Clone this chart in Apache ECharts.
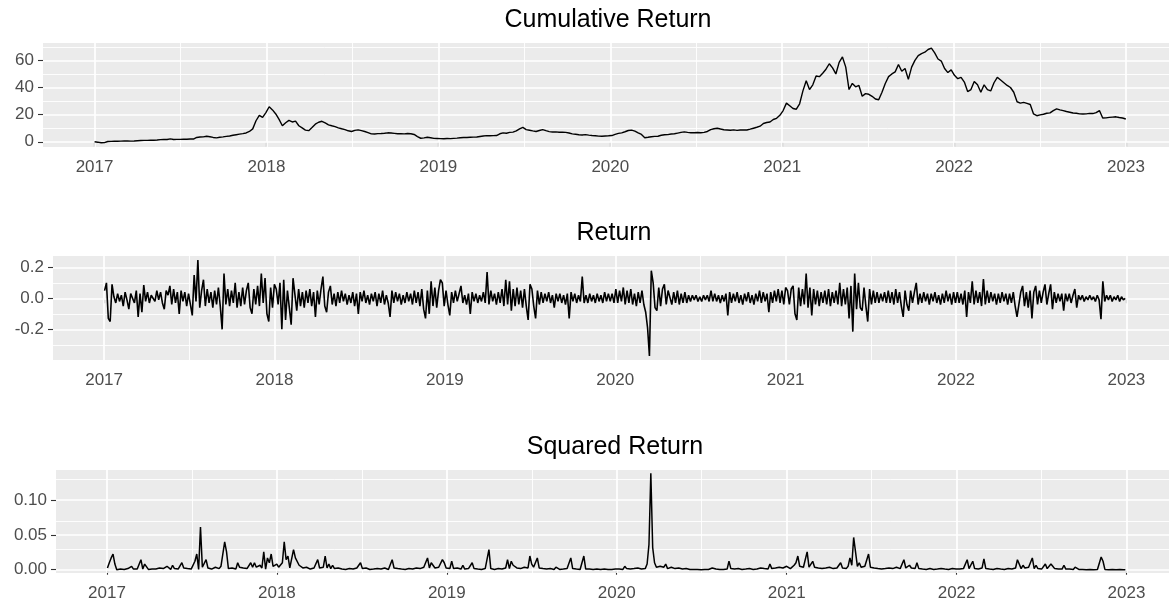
<!DOCTYPE html>
<html>
<head>
<meta charset="utf-8">
<script src="https://cdn.jsdelivr.net/npm/echarts@6/dist/echarts.min.js"></script>
<style>
html,body{margin:0;padding:0;background:#ffffff;}
#chart{width:1169px;height:601px;}
</style>
</head>
<body>
<div id="chart"></div>
<script>
// ---------------- data ----------------
const panelTitles = ['Cumulative Return', 'Return', 'Squared Return'];
const yearTicks = [2017, 2018, 2019, 2020, 2021, 2022, 2023];
const yearMinor = [2017.5, 2018.5, 2019.5, 2020.5, 2021.5, 2022.5];
const cumTicks = [0, 20, 40, 60];
const cumMinor = [10, 30, 50, 70];
const retTicks = [-0.2, 0, 0.2];
const retMinor = [-0.3, -0.1, 0.1];
const sqTicks = [0, 0.05, 0.10];
const sqMinor = [0.025, 0.075, 0.125];

// cumulative return, one value per week starting 2017-01-01
const cumStepDays = 7;
const cum2017 = [0,-0.3,-0.7,-0.6,0.2,0.3,0.4,0.4,0.5,0.6, 0.6,0.5,0.6,0.8,0.9,1.0,1.0,1.1,1.1,1.3, 1.6,1.7,1.7,2.1,1.7,1.8,1.8,1.9,1.9,2.0, 2.0,3.2,3.5,3.6,4.1,3.7,3.2,2.9,3.3,3.6, 4.0,4.3,4.8,5.2,5.6,6.0,6.5,7.6,9.5,15.5, 19.5,18.0,21.5];
const cum2018 = [25.8,23.5,20.5,16.5,11.8,14.0,15.8,14.6,15.2,11.8, 10.2,8.6,8.2,10.5,13.0,14.4,15.1,13.9,12.5,11.8, 11.2,10.3,9.6,9.0,8.1,7.6,8.4,8.8,8.2,7.6, 6.8,5.8,5.7,6.0,6.1,6.3,6.6,6.5,6.2,5.9, 5.9,5.8,6.1,5.9,5.4,3.8,2.6,2.9,3.3,3.0, 2.5,2.4];
const cum2019 = [2.3,2.2,2.4,2.3,2.5,2.7,3.0,3.2,3.2,3.3, 3.4,3.5,3.9,4.3,4.5,4.4,4.5,4.6,5.9,6.6, 6.3,6.9,7.1,8.0,9.5,10.6,9.0,8.5,8.0,7.6, 8.3,9.0,8.2,7.5,7.2,7.3,7.0,7.1,6.9,6.5, 5.8,5.5,5.2,5.0,5.3,4.9,4.6,4.4,4.2,4.1, 4.3,4.4];
const cum2020 = [4.6,5.5,6.2,6.6,7.4,8.3,8.6,7.8,6.5,5.4, 3.0,3.3,3.7,4.0,4.1,4.8,5.2,5.3,5.7,5.9, 6.4,6.9,7.3,6.9,6.7,6.6,6.8,6.7,6.9,7.6, 9.0,9.6,10.0,9.4,8.9,8.7,8.5,8.8,8.4,8.7, 8.8,8.7,9.3,10.0,10.7,11.5,13.5,14.2,14.6,16.4, 17.3,19.5];
const cum2021 = [23.0,28.5,26.5,24.5,24.0,28.0,37.5,45.0,38.5,42.0, 48.5,48.0,50.5,53.5,57.5,54.5,50.0,58.5,62.5,55.0, 38.5,43.0,40.5,41.5,33.5,35.5,35.0,33.5,31.5,31.0, 36.5,43.0,48.0,50.0,51.5,57.0,52.0,54.0,46.0,55.0, 60.0,63.5,65.0,66.0,68.0,69.0,65.5,61.0,59.5,54.0, 51.0,53.0,49.0];
const cum2022 = [46.5,47.5,44.0,37.0,38.5,44.5,42.0,36.5,42.0,38.5, 37.5,43.5,47.5,45.5,43.5,41.5,40.0,36.5,29.5,28.5, 29.0,28.3,27.5,20.5,19.2,19.8,20.3,21.0,21.3,23.0, 24.3,23.5,23.0,22.3,21.8,21.2,21.0,20.6,20.5,20.6, 20.9,20.8,21.5,23.0,17.5,17.6,18.0,18.2,18.4,17.9, 17.5,16.8];

// daily return, one value every 4 days starting 2017-01-02
const retStepDays = 4;
const ret2017 = [0.05,0.10,-0.13,-0.15,0.09,0.01,-0.03,0.03,-0.02,0.02, -0.05,0.04,-0.01,-0.07,0.03,0.02,-0.03,0.05,-0.12,0.03, -0.09,0.085,-0.02,0.04,-0.03,0.02,0.03,-0.02,0.05,-0.01, 0.04,-0.03,-0.07,0.05,0.02,0.08,-0.04,0.06,-0.03,0.04, -0.10,0.05,-0.02,0.04,-0.05,0.03,-0.04,-0.11,0.15,-0.02, 0.247,-0.06,0.05,0.12,-0.05,0.06,-0.03,0.04,-0.06,0.05, -0.04,0.07,-0.05,-0.20,0.16,-0.04,0.06,-0.05,0.05,-0.03, 0.10,-0.06,0.04,-0.05,0.07,-0.04,0.05,0.10,-0.06,-0.10, 0.06,-0.04,0.08,-0.05,0.16,-0.03,0.13,-0.10,-0.15,0.07, -0.06,0.09];
const ret2018 = [0.06,-0.04,0.10,-0.20,0.12,-0.14,0.05,-0.06,-0.17,0.13, 0.12,-0.08,0.06,-0.05,0.04,-0.06,0.05,-0.03,0.06,-0.05, 0.04,-0.12,0.05,-0.04,0.06,0.14,-0.05,-0.09,0.04,0.08, -0.04,0.03,-0.05,0.04,-0.03,0.05,-0.02,0.03,-0.04,0.02, -0.03,0.04,-0.05,0.03,-0.10,0.04,-0.02,0.05,-0.03,0.02, -0.04,0.03,-0.02,0.04,-0.05,0.03,-0.03,0.05,-0.04,0.02, -0.03,-0.12,0.05,-0.03,0.04,-0.02,0.03,-0.04,0.02,-0.03, 0.04,-0.02,0.03,-0.04,0.05,-0.03,0.04,-0.05,0.06,-0.07, -0.13,0.05,-0.10,0.11,-0.05,0.07,-0.06,0.05,0.12,0.10, -0.05];
const ret2019 = [0.05,-0.04,-0.11,0.04,-0.03,0.05,-0.02,0.03,0.08,-0.03, 0.02,-0.04,0.03,-0.10,0.04,-0.02,0.03,-0.03,0.02,-0.02, 0.04,-0.03,0.17,-0.04,0.05,-0.02,0.03,-0.04,0.04,-0.03, 0.06,-0.05,0.12,-0.04,0.11,-0.08,0.06,-0.05,0.07,-0.04, 0.05,-0.06,0.06,-0.05,-0.14,0.09,0.06,-0.05,-0.13,0.05, -0.04,0.04,-0.03,0.03,-0.02,0.04,-0.03,0.02,-0.06,0.03, -0.02,0.03,-0.03,0.02,-0.04,0.03,-0.13,0.04,-0.02,0.03, -0.03,0.02,-0.02,0.14,-0.03,0.02,-0.03,0.03,-0.02,0.02, -0.03,0.03,-0.02,0.02,-0.03,0.04,-0.02,0.03,-0.02,0.03, -0.03];
const ret2020 = [0.06,-0.03,0.05,-0.02,0.07,-0.04,0.05,-0.03,0.06,-0.04, 0.03,-0.05,0.04,-0.03,0.05,-0.04,-0.09,-0.19,-0.372,0.178, 0.10,-0.06,-0.08,0.07,-0.05,0.06,0.09,-0.04,0.05,0.06, -0.04,0.04,-0.03,0.05,-0.04,0.03,-0.03,0.04,-0.03,0.02, -0.02,0.02,-0.01,0.02,-0.02,0.01,-0.02,0.02,-0.01,0.02, -0.02,0.05,-0.02,0.03,-0.02,0.02,-0.03,0.02,-0.02,0.03, -0.11,0.04,-0.03,0.03,-0.02,0.04,-0.03,0.02,-0.04,0.03, -0.02,0.04,-0.03,0.02,-0.04,0.03,-0.02,0.05,-0.03,0.04, -0.02,0.03,-0.09,0.04,-0.03,0.05,-0.02,0.06,-0.03,0.05, -0.04,0.07];
const ret2021 = [0.05,-0.04,0.06,0.08,-0.10,-0.14,0.07,-0.05,0.06,-0.04, 0.16,-0.06,0.07,-0.11,0.06,-0.04,0.05,-0.05,0.04,-0.03, 0.05,-0.04,0.06,-0.05,0.04,-0.03,0.05,-0.04,0.10,-0.05, 0.06,-0.04,0.07,-0.13,0.08,-0.215,0.16,-0.07,0.10,-0.06, -0.08,0.07,-0.05,-0.15,0.06,-0.04,0.05,-0.03,0.04,-0.03, 0.03,-0.02,0.04,-0.03,0.05,-0.03,0.04,-0.04,0.06,-0.03, 0.04,-0.05,-0.12,0.05,-0.04,-0.08,0.05,-0.03,0.04,0.10, -0.04,0.03,-0.03,0.04,-0.02,0.03,-0.04,0.03,-0.02,0.04, -0.03,0.02,-0.04,0.03,-0.03,0.05,-0.02,0.03,-0.04,0.04, -0.03];
const ret2022 = [0.04,-0.03,0.03,-0.04,0.05,-0.12,0.04,-0.03,0.11,-0.04, 0.05,-0.03,0.04,-0.05,0.125,-0.04,0.05,-0.03,0.04,-0.02, 0.03,-0.04,0.03,-0.03,0.04,-0.02,0.03,-0.04,0.03,-0.03, 0.04,-0.05,-0.12,-0.11,0.04,0.08,-0.05,0.04,-0.06,0.05, -0.13,0.04,0.08,-0.04,0.05,-0.03,0.04,0.09,-0.04,0.03, 0.09,-0.07,0.04,-0.03,0.03,-0.02,0.03,-0.08,0.03,-0.02, 0.03,-0.03,0.02,0.06,-0.06,0.02,-0.01,0.02,-0.02,0.01, -0.01,0.02,-0.01,0.01,-0.02,0.02,-0.01,-0.135,0.11,-0.02, 0.02,-0.01,0.02,-0.02,0.01,-0.01,0.02,-0.02,0.01,-0.01, 0.00];

// ---------------- build ----------------
const cumulative = [].concat(cum2017, cum2018, cum2019, cum2020, cum2021, cum2022);
const returns = [].concat(ret2017, ret2018, ret2019, ret2020, ret2021, ret2022);
const squaredReturns = returns.map(r => r * r); // squared return = return^2

const toYear = days => 2017 + days / 365.25;
const cumData = cumulative.map((v, i) => [toYear(i * cumStepDays), v]);
const retData = returns.map((v, i) => [toYear(1 + i * retStepDays), v]);
const sqData = squaredReturns.map((v, i) => [toYear(1 + i * retStepDays), v]);

const FONT = '"Liberation Sans", Arial, Helvetica, sans-serif';
const MAJOR_W = 1.7, MINOR_W = 0.9;

function gridLineSeries(idx, majY, minY) {
  const d = [];
  yearMinor.forEach(v => d.push({ xAxis: v, lineStyle: { width: MINOR_W } }));
  minY.forEach(v => d.push({ yAxis: v, lineStyle: { width: MINOR_W } }));
  yearTicks.forEach(v => d.push({ xAxis: v, lineStyle: { width: MAJOR_W } }));
  majY.forEach(v => d.push({ yAxis: v, lineStyle: { width: MAJOR_W } }));
  return {
    type: 'line', xAxisIndex: idx, yAxisIndex: idx, data: [], silent: true,
    markLine: {
      silent: true, z: 1, symbol: ['none', 'none'], animation: false,
      label: { show: false }, emphasis: { disabled: true },
      lineStyle: { color: '#FFFFFF', type: 'solid' },
      data: d
    }
  };
}

function xAxisDef(idx) {
  return {
    type: 'value', gridIndex: idx, min: 2016.7, max: 2023.25,
    axisLine: { show: false },
    axisTick: { show: true, length: 5, customValues: yearTicks, lineStyle: { color: '#333333', width: 1.1 } },
    axisLabel: { customValues: yearTicks, formatter: v => String(Math.round(v)), fontSize: 17, color: '#4D4D4D', fontFamily: FONT, margin: 12 },
    splitLine: { show: false }
  };
}
function yAxisDef(idx, min, max, ticks, fmt) {
  return {
    type: 'value', gridIndex: idx, min: min, max: max,
    axisLine: { show: false },
    axisTick: { show: true, length: 5, customValues: ticks, lineStyle: { color: '#333333', width: 1.1 } },
    axisLabel: { customValues: ticks, formatter: fmt, fontSize: 17, color: '#4D4D4D', fontFamily: FONT, margin: 9 },
    splitLine: { show: false }
  };
}
function gridDef(left, top, height) {
  return { left: left, top: top, right: 0, height: height, show: true, backgroundColor: '#EBEBEB', borderWidth: 0, containLabel: false, outerBoundsMode: 'none' };
}
function titleDef(text, centerX, top) {
  return { text: text, left: centerX - 5, top: top, textAlign: 'center',
    textStyle: { fontSize: 25, fontWeight: 'normal', color: '#000000', fontFamily: FONT } };
}
function dataSeries(idx, data, w) {
  return { type: 'line', xAxisIndex: idx, yAxisIndex: idx, data: data, symbol: 'none', showSymbol: false,
    z: 3, silent: true, lineStyle: { color: '#000000', width: w }, clip: true };
}

const option = {
  animation: false,
  backgroundColor: '#FFFFFF',
  title: [
    titleDef(panelTitles[0], 608, 3),
    titleDef(panelTitles[1], 614, 216),
    titleDef(panelTitles[2], 615, 430)
  ],
  grid: [gridDef(43, 43, 104), gridDef(53, 256, 104), gridDef(56, 470, 103)],
  xAxis: [xAxisDef(0), xAxisDef(1), xAxisDef(2)],
  yAxis: [
    yAxisDef(0, -3.85, 72.8, cumTicks, v => String(Math.round(v))),
    yAxisDef(1, -0.398, 0.273, retTicks, v => v.toFixed(1)),
    yAxisDef(2, -0.0047, 0.1429, sqTicks, v => v.toFixed(2))
  ],
  series: [
    gridLineSeries(0, cumTicks, cumMinor),
    gridLineSeries(1, retTicks, retMinor),
    gridLineSeries(2, sqTicks, sqMinor),
    dataSeries(0, cumData, 1.4),
    dataSeries(1, retData, 1.6),
    dataSeries(2, sqData, 1.5)
  ]
};

const chart = echarts.init(document.getElementById('chart'), null, { renderer: 'canvas' });
chart.setOption(option);
</script>
</body>
</html>
